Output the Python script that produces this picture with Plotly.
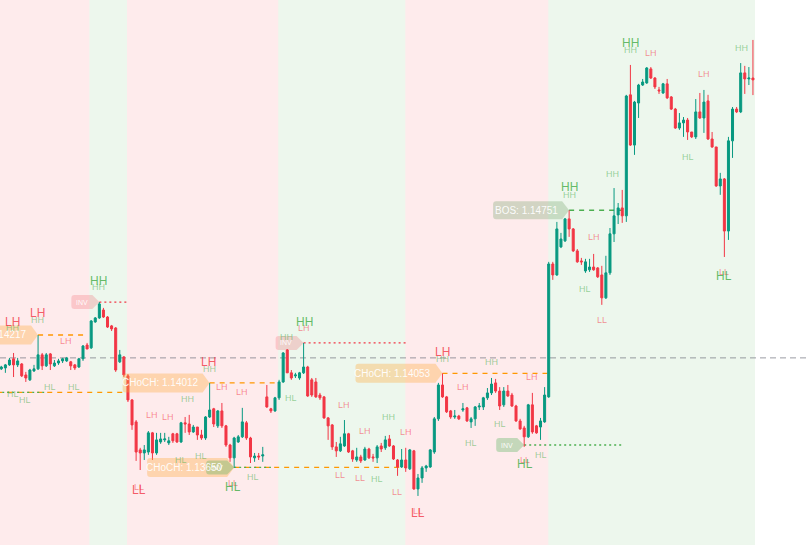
import plotly.graph_objects as go

# EURUSD-style bars (bar index 0..184)
opens = [1.14072, 1.14076, 1.14089, 1.14115, 1.14089, 1.14093, 1.14046, 1.14025, 1.14063, 1.14072,
         1.14132, 1.14085, 1.14136, 1.14085, 1.14097, 1.14106, 1.14106, 1.14102, 1.14089, 1.14080,
         1.14115, 1.14174, 1.14162, 1.14273, 1.14290, 1.14324, 1.14294, 1.14256, 1.14247, 1.14102,
         1.14123, 1.14042, 1.13939, 1.13845, 1.13725, 1.13712, 1.13716, 1.13798, 1.13712, 1.13759,
         1.13768, 1.13755, 1.13794, 1.13794, 1.13759, 1.13841, 1.13836, 1.13802, 1.13823, 1.13789,
         1.13776, 1.13866, 1.13901, 1.13828, 1.13892, 1.13828, 1.13746, 1.13691, 1.13759, 1.13781,
         1.13841, 1.13776, 1.13691, 1.13699, 1.13699, 1.13952, 1.13901, 1.13892, 1.13948, 1.14016,
         1.14153, 1.14055, 1.14042, 1.14033, 1.14055, 1.14080, 1.14025, 1.14016, 1.13960, 1.13952,
         1.13862, 1.13832, 1.13738, 1.13721, 1.13742, 1.13794, 1.13721, 1.13682, 1.13695, 1.13682,
         1.13729, 1.13695, 1.13691, 1.13742, 1.13734, 1.13772, 1.13742, 1.13682, 1.13652, 1.13682,
         1.13644, 1.13721, 1.13558, 1.13605, 1.13648, 1.13652, 1.13716, 1.13858, 1.14003, 1.13952,
         1.13892, 1.13866, 1.13870, 1.13896, 1.13905, 1.13845, 1.13858, 1.13909, 1.13909, 1.13948,
         1.13969, 1.14012, 1.13977, 1.13918, 1.13977, 1.13960, 1.13913, 1.13849, 1.13819, 1.13781,
         1.13918, 1.13828, 1.13823, 1.13845, 1.13952, 1.14521, 1.14474, 1.14594, 1.14620, 1.14714,
         1.14671, 1.14577, 1.14534, 1.14491, 1.14496, 1.14508, 1.14504, 1.14474, 1.14376, 1.14483,
         1.14650, 1.14731, 1.14761, 1.14727, 1.15245, 1.15030, 1.15210, 1.15287, 1.15296, 1.15356,
         1.15317, 1.15266, 1.15253, 1.15292, 1.15236, 1.15184, 1.15103, 1.15125, 1.15137, 1.15086,
         1.15065, 1.15172, 1.15146, 1.15219, 1.15056, 1.15022, 1.14855, 1.14885, 1.14662, 1.15048,
         1.15184, 1.15172, 1.15339, 1.15313, 1.15317]
highs = [1.14085, 1.14093, 1.14119, 1.14140, 1.14119, 1.14097, 1.14059, 1.14072, 1.14089, 1.14217,
         1.14140, 1.14140, 1.14140, 1.14110, 1.14115, 1.14119, 1.14123, 1.14106, 1.14093, 1.14119,
         1.14174, 1.14183, 1.14281, 1.14294, 1.14358, 1.14333, 1.14298, 1.14260, 1.14251, 1.14153,
         1.14127, 1.14050, 1.13943, 1.13853, 1.13734, 1.13746, 1.13806, 1.13802, 1.13798, 1.13798,
         1.13798, 1.13781, 1.13798, 1.13798, 1.13845, 1.13866, 1.13875, 1.13832, 1.13823, 1.13811,
         1.13870, 1.14012, 1.13905, 1.13896, 1.13926, 1.13832, 1.13751, 1.13781, 1.13789, 1.13905,
         1.13849, 1.13781, 1.13712, 1.13712, 1.13738, 1.14003, 1.13905, 1.13952, 1.14025, 1.14144,
         1.14157, 1.14067, 1.14055, 1.14059, 1.14183, 1.14085, 1.14033, 1.14033, 1.13969, 1.13956,
         1.13866, 1.13836, 1.13759, 1.13781, 1.13853, 1.13798, 1.13725, 1.13734, 1.13704, 1.13738,
         1.13734, 1.13708, 1.13746, 1.13755, 1.13785, 1.13789, 1.13746, 1.13686, 1.13729, 1.13734,
         1.13729, 1.13725, 1.13622, 1.13656, 1.13661, 1.13729, 1.13866, 1.14012, 1.14053, 1.13956,
         1.13896, 1.13896, 1.13875, 1.13926, 1.13909, 1.13866, 1.13913, 1.13926, 1.13952, 1.13990,
         1.14033, 1.14029, 1.13994, 1.13994, 1.14003, 1.13969, 1.13918, 1.13858, 1.13828, 1.13922,
         1.13969, 1.13832, 1.13862, 1.13994, 1.14530, 1.14530, 1.14701, 1.14654, 1.14718, 1.14751,
         1.14675, 1.14585, 1.14547, 1.14543, 1.14543, 1.14564, 1.14508, 1.14513, 1.14556, 1.14675,
         1.14846, 1.14782, 1.14838, 1.15245, 1.15373, 1.15219, 1.15292, 1.15313, 1.15364, 1.15364,
         1.15321, 1.15279, 1.15296, 1.15313, 1.15240, 1.15189, 1.15167, 1.15150, 1.15146, 1.15086,
         1.15227, 1.15253, 1.15266, 1.15245, 1.15086, 1.15022, 1.14911, 1.14889, 1.15065, 1.15193,
         1.15193, 1.15381, 1.15369, 1.15364, 1.15480]
lows = [1.14067, 1.14055, 1.14085, 1.14037, 1.14080, 1.14037, 1.14016, 1.14020, 1.14059, 1.14067,
        1.14067, 1.14080, 1.14067, 1.14080, 1.14089, 1.14097, 1.14102, 1.14067, 1.14067, 1.14076,
        1.14106, 1.14157, 1.14157, 1.14269, 1.14286, 1.14290, 1.14247, 1.14234, 1.14059, 1.14097,
        1.14037, 1.13930, 1.13811, 1.13678, 1.13639, 1.13682, 1.13704, 1.13682, 1.13704, 1.13751,
        1.13759, 1.13746, 1.13755, 1.13755, 1.13755, 1.13798, 1.13789, 1.13798, 1.13768, 1.13768,
        1.13768, 1.13862, 1.13823, 1.13819, 1.13819, 1.13738, 1.13674, 1.13648, 1.13755, 1.13776,
        1.13768, 1.13669, 1.13674, 1.13682, 1.13674, 1.13905, 1.13883, 1.13888, 1.13939, 1.14012,
        1.14055, 1.14025, 1.14033, 1.14025, 1.14050, 1.13952, 1.13952, 1.13948, 1.13939, 1.13858,
        1.13768, 1.13725, 1.13695, 1.13716, 1.13738, 1.13712, 1.13674, 1.13674, 1.13669, 1.13678,
        1.13686, 1.13674, 1.13669, 1.13716, 1.13725, 1.13738, 1.13682, 1.13614, 1.13648, 1.13631,
        1.13639, 1.13554, 1.13528, 1.13584, 1.13631, 1.13648, 1.13708, 1.13849, 1.13948, 1.13883,
        1.13858, 1.13858, 1.13853, 1.13888, 1.13845, 1.13819, 1.13828, 1.13896, 1.13896, 1.13939,
        1.13960, 1.13969, 1.13896, 1.13909, 1.13952, 1.13909, 1.13845, 1.13811, 1.13738, 1.13776,
        1.13794, 1.13794, 1.13768, 1.13841, 1.13948, 1.14453, 1.14470, 1.14589, 1.14615, 1.14637,
        1.14572, 1.14526, 1.14517, 1.14483, 1.14487, 1.14492, 1.14461, 1.14346, 1.14371, 1.14474,
        1.14615, 1.14692, 1.14697, 1.14701, 1.15026, 1.14988, 1.15146, 1.15283, 1.15292, 1.15313,
        1.15270, 1.15249, 1.15249, 1.15227, 1.15180, 1.15099, 1.15095, 1.15065, 1.15052, 1.15060,
        1.15056, 1.15142, 1.15082, 1.15052, 1.15018, 1.14851, 1.14817, 1.14551, 1.14624, 1.14975,
        1.15167, 1.15167, 1.15249, 1.15287, 1.15244]
closes = [1.14080, 1.14089, 1.14110, 1.14089, 1.14106, 1.14042, 1.14033, 1.14067, 1.14072, 1.14132,
          1.14085, 1.14132, 1.14093, 1.14097, 1.14106, 1.14115, 1.14119, 1.14085, 1.14076, 1.14115,
          1.14170, 1.14157, 1.14277, 1.14290, 1.14350, 1.14294, 1.14251, 1.14243, 1.14067, 1.14132,
          1.14046, 1.13939, 1.13832, 1.13716, 1.13712, 1.13725, 1.13798, 1.13712, 1.13768, 1.13772,
          1.13772, 1.13764, 1.13764, 1.13759, 1.13841, 1.13836, 1.13802, 1.13823, 1.13789, 1.13776,
          1.13866, 1.13896, 1.13836, 1.13892, 1.13828, 1.13746, 1.13691, 1.13776, 1.13781, 1.13845,
          1.13776, 1.13695, 1.13699, 1.13695, 1.13704, 1.13909, 1.13892, 1.13948, 1.14016, 1.14140,
          1.14055, 1.14033, 1.14046, 1.14055, 1.14080, 1.13956, 1.13960, 1.13952, 1.13948, 1.13862,
          1.13828, 1.13738, 1.13721, 1.13751, 1.13794, 1.13716, 1.13686, 1.13695, 1.13678, 1.13729,
          1.13691, 1.13691, 1.13738, 1.13729, 1.13768, 1.13742, 1.13686, 1.13652, 1.13682, 1.13648,
          1.13725, 1.13558, 1.13605, 1.13648, 1.13656, 1.13725, 1.13858, 1.14003, 1.13952, 1.13888,
          1.13866, 1.13870, 1.13858, 1.13901, 1.13849, 1.13858, 1.13909, 1.13913, 1.13948, 1.13969,
          1.14007, 1.13977, 1.13913, 1.13977, 1.13956, 1.13913, 1.13849, 1.13815, 1.13781, 1.13918,
          1.13802, 1.13798, 1.13849, 1.13960, 1.14521, 1.14474, 1.14671, 1.14628, 1.14714, 1.14671,
          1.14577, 1.14530, 1.14530, 1.14530, 1.14508, 1.14496, 1.14466, 1.14376, 1.14483, 1.14650,
          1.14727, 1.14761, 1.14727, 1.15240, 1.15030, 1.15214, 1.15287, 1.15300, 1.15360, 1.15317,
          1.15279, 1.15262, 1.15292, 1.15232, 1.15184, 1.15103, 1.15125, 1.15137, 1.15086, 1.15065,
          1.15172, 1.15146, 1.15214, 1.15056, 1.15022, 1.14855, 1.14885, 1.14662, 1.15048, 1.15184,
          1.15172, 1.15339, 1.15313, 1.15317, 1.15309]

# trend zones (bar index)
zone_start = [-1, 21.55, 30.77, 67.8, 98.9, 133.9]
zone_end = [21.55, 30.77, 67.8, 98.9, 133.9, 184.5]
zone_trend = ["bear", "bull", "bear", "bull", "bear", "bull"]

# swing labels
lab_x = [2.86, 2.86, 8.74, 8.74, 15.84, 11.92, 17.8, 2.86, 5.8, 23.9, 23.9, 50.85, 50.6, 54.0,
         58.9, 45.7, 36.9, 40.8, 44.0, 48.9, 61.6, 33.7, 33.7, 56.7, 56.7, 74.1, 74.1, 69.9,
         70.9, 83.9, 94.9, 89.0, 99.1, 82.9, 87.8, 92.0, 96.9, 102.0, 102.0, 108.1, 108.1,
         120.1, 113.0, 129.9, 122.1, 115.0, 128.2, 128.2, 132.1, 154.1, 153.9, 159.1, 172.0,
         181.1, 168.1, 149.7, 139.0, 139.0, 145.1, 142.9, 147.1, 176.8, 176.9]
lab_y = [1.14247, 1.14273, 1.14281, 1.14311, 1.14192, 1.13994, 1.13994, 1.13965, 1.13939,
         1.14423, 1.14448, 1.14072, 1.14102, 1.13994, 1.13973, 1.13943, 1.13875, 1.13866,
         1.13682, 1.13699, 1.13609, 1.13567, 1.13554, 1.13584, 1.13567, 1.14247, 1.14273,
         1.14209, 1.13948, 1.13918, 1.13866, 1.13806, 1.13802, 1.13618, 1.13605, 1.13601,
         1.13545, 1.13463, 1.13455, 1.14115, 1.14144, 1.14102, 1.13994, 1.14037, 1.13836,
         1.13755, 1.13682, 1.13665, 1.13704, 1.15437, 1.15467, 1.15424, 1.15334, 1.15446,
         1.14979, 1.14906, 1.14817, 1.14851, 1.14637, 1.14414, 1.14281, 1.14487, 1.14470]
lab_text = ["HH", "LH", "HH", "LH", "LH", "HL", "HL", "HL", "HL", "HH", "HH", "HH", "LH", "LH",
            "LH", "HH", "LH", "LH", "HL", "HL", "HL", "LL", "LL", "LL", "HL", "LH", "HH", "HH",
            "HL", "LH", "HH", "LH", "LH", "LL", "LL", "HL", "LL", "LL", "LL", "HH", "LH",
            "HH", "LH", "LH", "HL", "HL", "LL", "HL", "HL", "HH", "HH", "LH", "LH",
            "HH", "HL", "HH", "HH", "HH", "LH", "HL", "LL", "LL", "HL"]
lab_major = [0, 1, 0, 1, 0, 0, 0, 0, 0, 0, 1, 0, 1, 0,
             0, 0, 0, 0, 0, 0, 0, 0, 1, 0, 1, 0, 1, 0,
             0, 0, 0, 0, 0, 0, 0, 0, 0, 0, 1, 0, 1,
             0, 0, 0, 0, 0, 0, 1, 0, 0, 1, 0, 0,
             0, 0, 0, 0, 1, 0, 0, 0, 0, 1]

# structure levels
lvl_price = [1.14217, 1.13971, 1.14012, 1.13650, 1.14053, 1.14751,
             1.14358, 1.14183, 1.13746, 1.13650, 1.13971]
lvl_from = [9, -1, 51, 57, 108, 139, 24, 74, 128, 57, -1]
lvl_to = [21, 31, 68, 99, 134, 152, 31, 99, 152, 66, 10.5]
lvl_kind = ["choch", "choch", "choch", "choch", "choch", "bos",
            "inv_bear", "inv_bear", "inv_bull", "inv_bull", "inv_bull"]

# tags at the swing points
tag_kind = ["CHoCH", "CHoCH", "CHoCH", "CHoCH", "BOS", "INV", "INV", "INV", "INV"]
tag_price = [1.14217, 1.14012, 1.13650, 1.14053, 1.14751, 1.14358, 1.14183, 1.13746, 1.13650]
tag_tip = [9, 51, 57, 108, 139, 24, 74, 128, 57]
tag_side = ["bear", "bear", "bear", "bull", "bull", "bear", "bear", "bull", "bull"]

last_price_line = 1.14119

W, H = 807, 545
X_RANGE = [-0.32, 197.23]
Y_RANGE = [1.13318, 1.15651]
SX = (X_RANGE[1] - X_RANGE[0]) / W
SY = (Y_RANGE[1] - Y_RANGE[0]) / H

GREEN = "#089981"
RED = "#f23645"
FONT = "Liberation Sans"

fig = go.Figure()
fig.add_trace(go.Candlestick(
    x=list(range(len(opens))), open=opens, high=highs, low=lows, close=closes,
    increasing=dict(line=dict(color=GREEN, width=1), fillcolor=GREEN),
    decreasing=dict(line=dict(color=RED, width=1), fillcolor=RED),
    whiskerwidth=0, hoverinfo="skip",
))

shapes = []
for x0, x1, t in zip(zone_start, zone_end, zone_trend):
    col = "rgba(242,54,69,0.1)" if t == "bear" else "rgba(76,175,80,0.1)"
    shapes.append(dict(type="rect", xref="x", yref="paper", x0=x0, x1=x1, y0=0, y1=1,
                       fillcolor=col, line_width=0, layer="below"))

shapes.append(dict(type="line", xref="paper", yref="y", x0=0, x1=1,
                   y0=last_price_line, y1=last_price_line, layer="below",
                   line=dict(color="rgba(120,123,134,0.75)", width=1, dash="6px,4px")))

line_style = {
    "choch": dict(color="#ff9800", width=1.3, dash="5px,5px"),
    "bos": dict(color="#4caf50", width=1.3, dash="5px,5px"),
    "inv_bear": dict(color=RED, width=1.3, dash="2px,3px"),
    "inv_bull": dict(color="#4caf50", width=1.3, dash="2px,3px"),
}
for p, a, b, k in zip(lvl_price, lvl_from, lvl_to, lvl_kind):
    shapes.append(dict(type="line", xref="x", yref="y", x0=a, x1=b, y0=p, y1=p,
                       line=line_style[k], layer="below"))


def tag_path(tip, price, w_px, h_px, tip_px=7, r_px=3):
    x1 = tip - tip_px * SX
    x0 = tip - w_px * SX
    y0 = price - h_px / 2 * SY
    y1 = price + h_px / 2 * SY
    rx, ry = r_px * SX, r_px * SY
    path = (f"M {x0 + rx},{y1} L {x1},{y1} L {tip},{price} L {x1},{y0} L {x0 + rx},{y0} "
            f"Q {x0},{y0} {x0},{y0 + ry} L {x0},{y1 - ry} Q {x0},{y1} {x0 + rx},{y1} Z")
    return path, (x0 + x1) / 2


annotations = []
for k, p, tip, side in zip(tag_kind, tag_price, tag_tip, tag_side):
    if k == "CHoCH":
        w, h, fill, txt, fs = 87, 19, "rgba(255,170,60,0.35)", f"CHoCH: {p:.5f}", 10
    elif k == "BOS":
        w, h, fill, txt, fs = 76, 18, "rgba(110,160,100,0.3)", f"BOS: {p:.5f}", 10
    else:
        w, h, txt, fs = 28, 14, "INV", 7
        fill = "rgba(242,54,69,0.2)" if side == "bear" else "rgba(76,175,80,0.32)"
    path, cx = tag_path(tip, p, w, h)
    shapes.append(dict(type="path", xref="x", yref="y", path=path, fillcolor=fill,
                       line_width=0, layer="above"))
    if k == "INV":
        ax, anchor = cx, "center"
    else:
        # right-align the text inside the tag so it stays visible near the left edge
        ax, anchor = tip - 9 * SX, "right"
    annotations.append(dict(x=ax, y=p, xref="x", yref="y", text=txt, showarrow=False,
                            xanchor=anchor, yanchor="middle",
                            font=dict(family=FONT, size=fs, color="rgba(255,255,255,0.95)")))

for x, y, t, big in zip(lab_x, lab_y, lab_text, lab_major):
    bull = t in ("HH", "HL")
    if big:
        col = "rgba(76,175,80,0.85)" if bull else "rgba(242,54,69,0.8)"
        size = 12
    else:
        col = "rgba(76,175,80,0.55)" if bull else "rgba(242,54,69,0.55)"
        size = 9
    annotations.append(dict(x=x, y=y, xref="x", yref="y", text=t, showarrow=False,
                            xanchor="center", yanchor="middle",
                            font=dict(family=FONT, size=size, color=col)))

fig.update_layout(
    width=W, height=H,
    margin=dict(l=0, r=0, t=0, b=0),
    paper_bgcolor="white", plot_bgcolor="white",
    showlegend=False, hovermode=False,
    shapes=shapes, annotations=annotations,
    xaxis=dict(range=X_RANGE, visible=False, rangeslider=dict(visible=False), fixedrange=True),
    yaxis=dict(range=Y_RANGE, visible=False, fixedrange=True),
)

# drop the page's default body margin so the chart sits flush in the window
fig.write_html("out.html", config={"displayModeBar": False},
               post_script="document.body.style.margin='0px';")
